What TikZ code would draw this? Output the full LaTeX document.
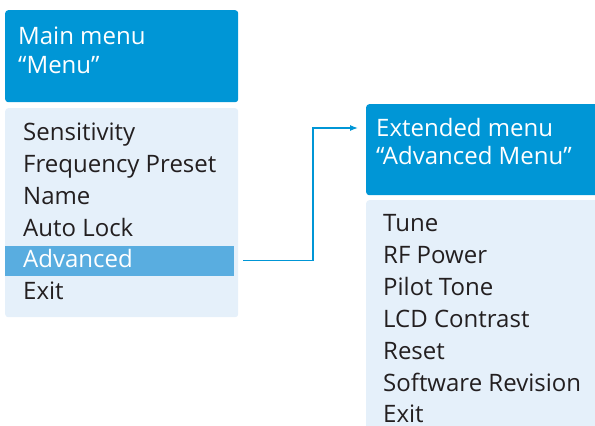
\documentclass[tikz,border=0pt]{standalone}
\usepackage{fontspec}
\setmainfont{Open Sans}
\usetikzlibrary{arrows.meta}
\definecolor{hdrblue}{HTML}{0096D6}
\definecolor{listbg}{HTML}{E5F0FA}
\definecolor{hlblue}{HTML}{59ADE0}
\definecolor{txt}{HTML}{231F20}
\tikzset{
  hdrbox/.style={fill=hdrblue, rounded corners=3pt, draw=none, inner sep=0, anchor=north west},
  listbox/.style={fill=listbg, rounded corners=3pt, draw=none, inner sep=0, anchor=north west},
  hlbox/.style={fill=hlblue, draw=none, inner sep=0, anchor=north west},
  htext/.style={text=white, inner sep=0, anchor=base west, font=\fontsize{24}{28}\selectfont},
  ltext/.style={text=txt, inner sep=0, anchor=base west, font=\fontsize{24}{28}\selectfont},
  conn/.style={draw=hdrblue, line width=1.2pt, -{Latex[length=8pt,width=6pt]}}
}
\begin{document}
\begin{tikzpicture}[x=1pt,y=-1pt]
\useasboundingbox (0,0) rectangle (595,426);
% left column
\node[hdrbox, minimum width=233pt, minimum height=92pt] (mainhdr) at (5,10) {};
\node[listbox, minimum width=233pt, minimum height=209pt] (mainlist) at (5,108) {};
\node[hlbox, minimum width=229pt, minimum height=30pt] (hl) at (5,246) {};
\node[htext] (mh1) at (18,44) {Main menu};
\node[htext] (mh2) at (18,73) {``Menu''};
\node[ltext] (m1) at (23,140) {Sensitivity};
\node[ltext] (m2) at (23,172) {Frequency Preset};
\node[ltext] (m3) at (23,204) {Name};
\node[ltext] (m4) at (23,236) {Auto Lock};
\node[htext] (m5) at (23,267) {Advanced};
\node[ltext] (m6) at (23,299) {Exit};
% right column
\node[hdrbox, minimum width=235pt, minimum height=91pt] (exthdr) at (366,104) {};
\node[listbox, minimum width=235pt, minimum height=240pt] (extlist) at (366,200) {};
\node[htext] (eh1) at (376,136) {Extended menu};
\node[htext] (eh2) at (376,164) {``Advanced Menu''};
\node[ltext] (e1) at (383,231) {Tune};
\node[ltext] (e2) at (383,263) {RF Power};
\node[ltext] (e3) at (383,295) {Pilot Tone};
\node[ltext] (e4) at (383,327) {LCD Contrast};
\node[ltext] (e5) at (383,359) {Reset};
\node[ltext] (e6) at (383,391) {Software Revision};
\node[ltext] (e7) at (383,422) {Exit};
% connector
\coordinate (bend) at (313,128);
\draw[conn] ([xshift=9pt,yshift=1pt]hl.east) -| (bend) -- ([xshift=-8pt]exthdr.west |- bend);
\end{tikzpicture}
\end{document}
